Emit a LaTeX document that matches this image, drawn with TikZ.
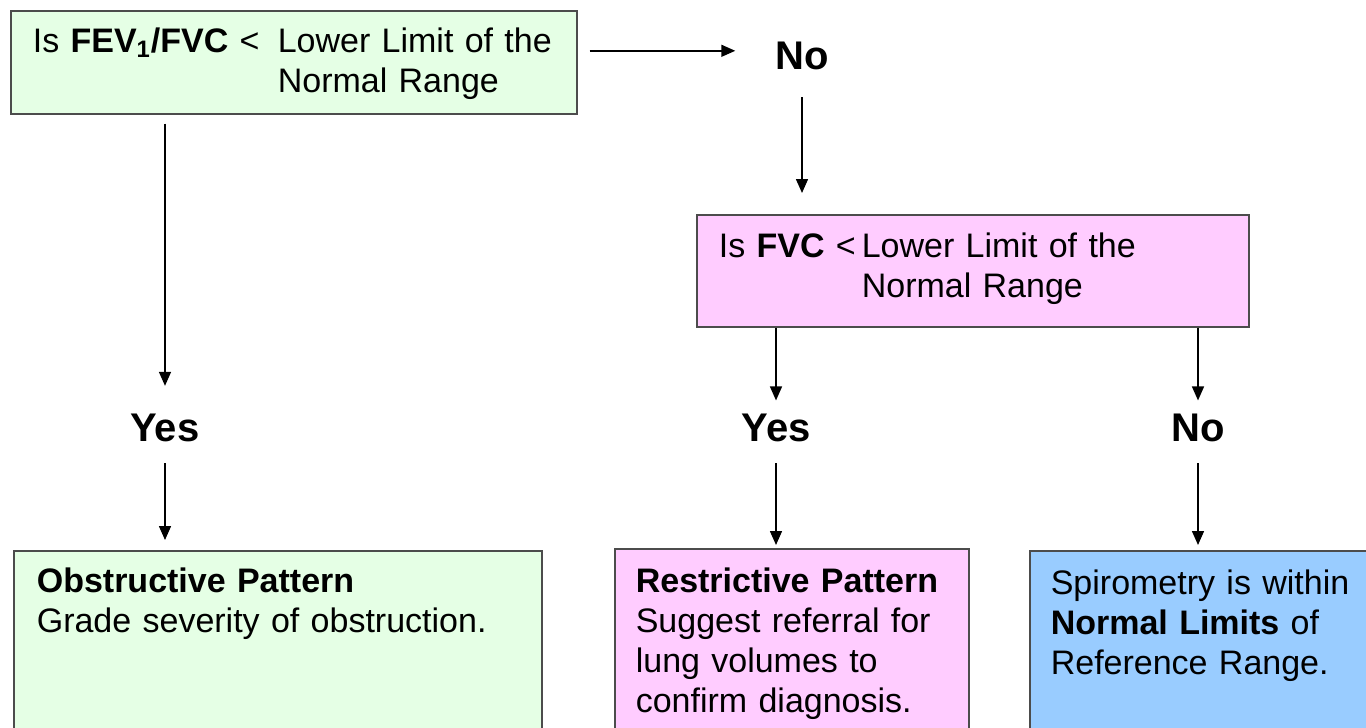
\documentclass[tikz,border=0pt]{standalone}
\usepackage{fontspec}
\setmainfont{Liberation Sans}
\usetikzlibrary{arrows.meta,positioning}
\definecolor{fevgreen}{RGB}{229,255,229}
\definecolor{fvcpink}{RGB}{255,204,255}
\definecolor{normblue}{RGB}{153,204,255}
\tikzset{
  qbox/.style={rectangle,draw=black!70,line width=0.8pt,anchor=north west,align=left,
    font=\fontsize{17}{20}\selectfont,inner ysep=5pt,text height=16pt},
  answer/.style={font=\fontsize{20}{24}\selectfont\bfseries,anchor=base},
  arr/.style={-{Triangle[length=7pt,width=6pt]},line width=0.75pt}
}
\begin{document}
\begin{tikzpicture}[x=0.5pt,y=-0.5pt]
        \useasboundingbox (0,0) rectangle (1366,728);
        \clip (0,0) rectangle (1366,728);

        % First question
        \node[qbox,fill=fevgreen,inner xsep=11pt,text width=261pt,text depth=25.5pt] (fevq) at (10,10) {
            \makebox[122.5pt][l]{Is \textbf{FEV\textsubscript{1}/FVC} <}Lower Limit of the\\
            \hspace*{122.5pt}Normal Range
        };
        \node[answer] (no1) at (802,69) {No};

        % Second question
        \node[qbox,fill=fvcpink,inner xsep=11pt,text width=254pt,text height=16.5pt,text depth=29.5pt] (fvcq) at (696,214) {
            \makebox[71.5pt][l]{Is \textbf{FVC} <}Lower Limit of the\\
            \hspace*{71.5pt}Normal Range
        };

        % Answers
        \node[answer] (yes1) at (165,441) {Yes};
        \node[answer] (yes2) at (776,441) {Yes};
        \node[answer] (no2) at (1198,441) {No};

        % Outcomes
        \node[qbox,fill=fevgreen,inner xsep=11.5pt,text width=241pt,text depth=200pt] (obst) at (13,550) {
            \textbf{Obstructive Pattern}\\
            Grade severity of obstruction.
        };
        \node[qbox,fill=fvcpink,inner xsep=10.5pt,text width=156pt,text height=17pt,text depth=200pt] (restr) at (614,548) {
            \textbf{Restrictive Pattern}\\
            Suggest referral for\\
            lung volumes to\\
            confirm diagnosis.
        };
        \node[qbox,fill=normblue,inner xsep=10.5pt,text width=180pt,text height=17pt,text depth=200pt] (normal) at (1029,550) {
            Spirometry is within\\
            \textbf{Normal Limits} of\\
            Reference Range.
        };

        % Connectors
        \coordinate (nostart) at ([xshift=6pt,yshift=5.75pt]fevq.east);
        \draw[arr,shorten >=16.5pt] (nostart) -- (nostart -| no1.west);
        \draw[arr,shorten <=10.5pt,shorten >=10.5pt] (no1.south) -- (no1.south |- fvcq.north);
        \draw[arr,shorten <=4.5pt,shorten >=10.3pt] (fevq.south -| yes1) -- (yes1.north);
        \draw[arr,shorten <=7.5pt,shorten >=5pt] (yes1.south) -- (yes1.south |- obst.north);
        \draw[arr,shorten >=3pt] (fvcq.south -| yes2) -- (yes2.north);
        \draw[arr,shorten >=3pt] (fvcq.south -| no2) -- (no2.north);
        \draw[arr,shorten <=7.5pt,shorten >=1.5pt] (yes2.south) -- (yes2.south |- restr.north);
        \draw[arr,shorten <=7.5pt,shorten >=2.5pt] (no2.south) -- (no2.south |- normal.north);
    \end{tikzpicture}
\end{document}
